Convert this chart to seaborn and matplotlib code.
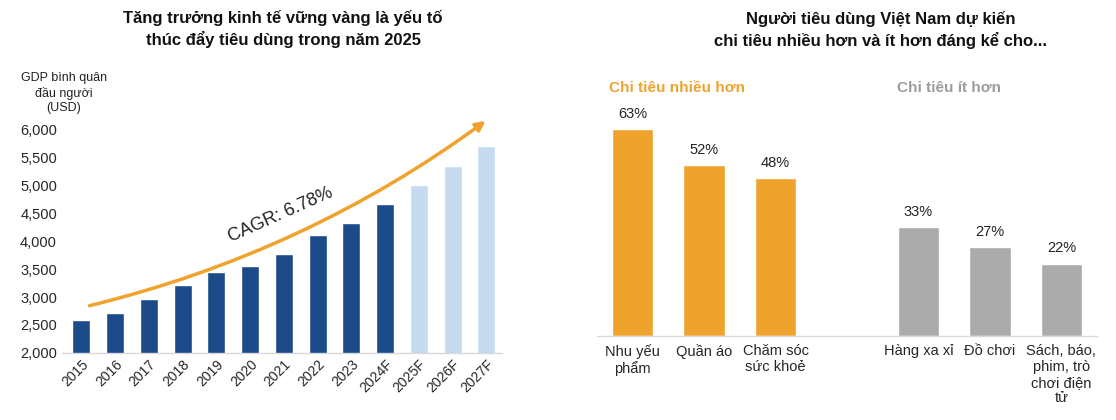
import matplotlib
matplotlib.use("Agg")
import matplotlib.pyplot as plt
import seaborn as sns
import pandas as pd

# =========================
# DATA
# =========================
years = ["2015", "2016", "2017", "2018", "2019", "2020", "2021",
         "2022", "2023", "2024F", "2025F", "2026F", "2027F"]
gdp_per_capita = [2580, 2720, 2960, 3220, 3445, 3550, 3765,
                  4110, 4330, 4660, 5015, 5355, 5715]
is_forecast = [False] * 10 + [True] * 3

more_cats = ["Nhu yếu\nphẩm", "Quần áo", "Chăm sóc\nsức khoẻ"]
more_vals = [63, 52, 48]
less_cats = ["Hàng xa xỉ", "Đồ chơi", "Sách, báo,\nphim, trò\nchơi điện\ntử"]
less_vals = [33, 27, 22]

DARK_BLUE = "#1D4B8A"
LIGHT_BLUE = "#C6DBF0"
ORANGE = "#F0A32C"
GREY = "#ABABAB"
AXIS_GREY = "#D9D9D9"

sns.set_theme(style="white")
plt.rcParams["font.family"] = ["Liberation Sans", "DejaVu Sans"]

fig = plt.figure(figsize=(11.16, 4.2), dpi=100)

# =========================
# LEFT: GDP per capita
# =========================
ax1 = fig.add_axes([0.056, 0.160, 0.394, 0.531])
df_gdp = pd.DataFrame({"year": years, "gdp": gdp_per_capita,
                       "kind": ["F" if f else "A" for f in is_forecast]})
sns.barplot(data=df_gdp, x="year", y="gdp", hue="kind", hue_order=["A", "F"],
            palette=[DARK_BLUE, LIGHT_BLUE], dodge=False, width=0.53,
            legend=False, saturation=1, ax=ax1)
ax1.set_ylim(2000, 6000)
ax1.set_xlim(-0.56, 12.47)
ax1.set_yticks(range(2000, 6001, 500))
ax1.set_yticklabels([f"{v:,}" for v in range(2000, 6001, 500)], fontsize=10.5)
ax1.tick_params(axis="y", length=0, pad=4)
ax1.tick_params(axis="x", length=0, pad=3)
for lbl in ax1.get_xticklabels():
    lbl.set_rotation(45)
    lbl.set_ha("right")
    lbl.set_rotation_mode("anchor")
    lbl.set_fontsize(10)
ax1.set_xlabel("")
ax1.set_ylabel("")
for s in ["top", "right", "left"]:
    ax1.spines[s].set_visible(False)
ax1.spines["bottom"].set_color(AXIS_GREY)
ax1.spines["bottom"].set_linewidth(1)

ax1.annotate("", xy=(11.98, 6160), xytext=(0.24, 2845),
             arrowprops=dict(arrowstyle="-|>", color=ORANGE, lw=2.5,
                             mutation_scale=14,
                             connectionstyle="arc3,rad=0.1",
                             shrinkA=0, shrinkB=0),
             annotation_clip=False)
ax1.text(5.9, 4470, "CAGR: 6.78%", rotation=24, fontsize=13,
         ha="center", va="center", color="#222222")

fig.text(283 / 1116, 1 - 29 / 420,
         "Tăng trưởng kinh tế vững vàng là yếu tố\nthúc đẩy tiêu dùng trong năm 2025",
         ha="center", va="center", fontsize=12, fontweight="bold",
         linespacing=1.35, color="#111111")
fig.text(64 / 1116, 1 - 93 / 420, "GDP bình quân\nđầu người\n(USD)",
         ha="center", va="center", fontsize=9, linespacing=1.3, color="#222222")

# =========================
# RIGHT: spending intentions
# =========================
ax2 = fig.add_axes([0.535, 0.200, 0.448, 0.548])
df_sp = pd.DataFrame({
    "cat": more_cats + less_cats,
    "val": more_vals + less_vals,
    "grp": ["more"] * len(more_cats) + ["less"] * len(less_cats),
})
order = more_cats + [" "] + less_cats
sns.barplot(data=df_sp, x="cat", y="val", hue="grp", hue_order=["more", "less"],
            order=order, palette=[ORANGE, GREY], dodge=False, width=0.58,
            legend=False, saturation=1, ax=ax2)
ax2.set_ylim(0, 70)
ax2.set_xlim(-0.5, 6.5)
ax2.set_yticks([])
ax2.set_xlabel("")
ax2.set_ylabel("")
ax2.tick_params(axis="x", length=0, pad=6, labelsize=10.5)
for lbl in ax2.get_xticklabels():
    lbl.set_linespacing(1.15)
for s in ["top", "right", "left"]:
    ax2.spines[s].set_visible(False)
ax2.spines["bottom"].set_color(AXIS_GREY)
ax2.spines["bottom"].set_linewidth(1)

for cont in ax2.containers:
    ax2.bar_label(cont, labels=[f"{v:.0f}%" if v == v else "" for v in cont.datavalues],
                  padding=6, fontsize=10.5, color="#222222")

fig.text(881 / 1116, 1 - 30 / 420,
         "Người tiêu dùng Việt Nam dự kiến\nchi tiêu nhiều hơn và ít hơn đáng kể cho...",
         ha="center", va="center", fontsize=12, fontweight="bold",
         linespacing=1.4, color="#111111")
fig.text(677 / 1116, 1 - 88 / 420, "Chi tiêu nhiều hơn", ha="center", va="center",
         fontsize=11, fontweight="bold", color=ORANGE)
fig.text(949 / 1116, 1 - 88 / 420, "Chi tiêu ít hơn", ha="center", va="center",
         fontsize=11, fontweight="bold", color="#9C9C9C")

fig.savefig("out.png", dpi=100)
